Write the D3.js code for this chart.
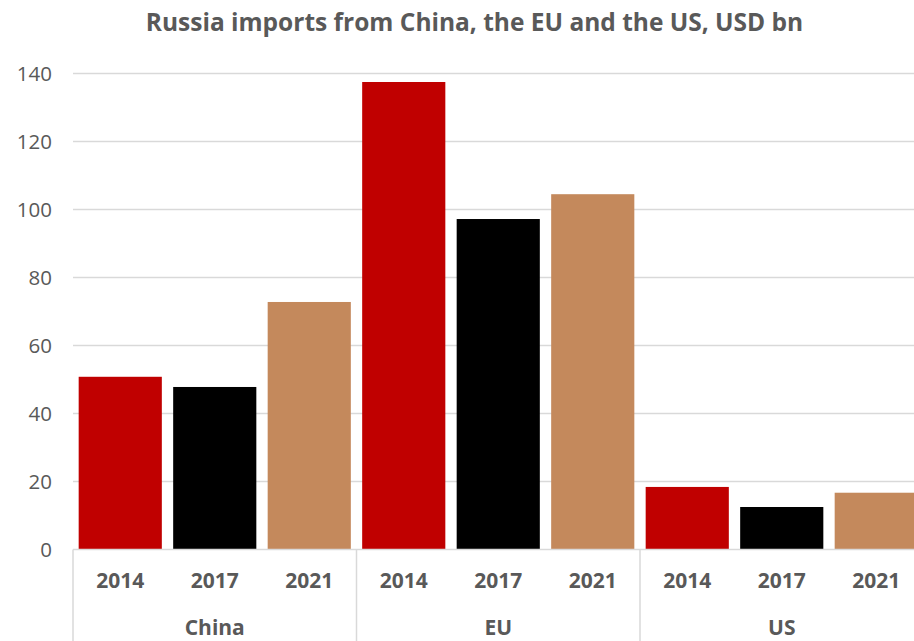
<!DOCTYPE html>
<html>
<head>
<meta charset="utf-8">
<script src="https://cdn.jsdelivr.net/npm/d3@7"></script>
<style>
  html, body { margin: 0; padding: 0; background: #fff; }
  svg { display: block; }
  text { font-family: "Open Sans", "Noto Sans", sans-serif; fill: #595959; }
</style>
</head>
<body>
<script>
// Russian imports by partner and year, USD bn
const partners = ["China", "EU", "US"];
const years = ["2014", "2017", "2021"];
const chinaValues = [50.8, 47.8, 72.8];
const euValues = [137.5, 97.2, 104.5];
const usValues = [18.4, 12.5, 16.7];
const yTicks = [0, 20, 40, 60, 80, 100, 120, 140];
const yearColors = ["#c00000", "#000000", "#c4895c"];
const titleText = "Russia imports from China, the EU and the US, USD bn";

const valuesByPartner = { China: chinaValues, EU: euValues, US: usValues };
const rows = [];
partners.forEach(p => years.forEach((y, i) => rows.push({ partner: p, year: y, idx: i, value: valuesByPartner[p][i] })));

const W = 914, H = 641;
const plot = { left: 73, right: 923.5, top: 73.5, bottom: 549.5 };

const svg = d3.select("body").append("svg").attr("width", W).attr("height", H);

const x = d3.scaleBand()
  .domain(rows.map(d => d.partner + "|" + d.year))
  .range([plot.left, plot.right])
  .paddingInner(0.12)
  .paddingOuter(0.06);

const xGroup = d3.scaleBand().domain(partners).range([plot.left, plot.right]);

const y = d3.scaleLinear().domain([0, 140]).range([plot.bottom, plot.top]);

// gridlines
svg.append("g").selectAll("line").data(yTicks.filter(t => t > 0)).join("line")
  .attr("x1", plot.left).attr("x2", W)
  .attr("y1", d => y(d)).attr("y2", d => y(d))
  .attr("stroke", "#d9d9d9").attr("stroke-width", 1.5);

// y tick labels
svg.append("g").selectAll("text").data(yTicks).join("text")
  .attr("x", 52).attr("y", d => y(d))
  .attr("dy", "0.35em")
  .attr("text-anchor", "end")
  .attr("font-size", 20.5)
  .text(d => d);

// bars
svg.append("g").selectAll("rect").data(rows).join("rect")
  .attr("x", d => x(d.partner + "|" + d.year))
  .attr("width", x.bandwidth())
  .attr("y", d => y(d.value))
  .attr("height", d => y(0) - y(d.value))
  .attr("fill", d => yearColors[d.idx]);

// category axis: baseline and group separators
svg.append("line")
  .attr("x1", plot.left).attr("x2", W)
  .attr("y1", plot.bottom).attr("y2", plot.bottom)
  .attr("stroke", "#d9d9d9").attr("stroke-width", 1.5);

const seps = partners.map(p => xGroup(p)).concat([plot.right]);
svg.append("g").selectAll("line").data(seps).join("line")
  .attr("x1", d => d).attr("x2", d => d)
  .attr("y1", plot.bottom).attr("y2", H)
  .attr("stroke", "#d9d9d9").attr("stroke-width", 1.5);

// year labels
svg.append("g").selectAll("text").data(rows).join("text")
  .attr("x", d => x(d.partner + "|" + d.year) + x.bandwidth() / 2)
  .attr("y", 581)
  .attr("dy", "0.35em")
  .attr("text-anchor", "middle")
  .attr("font-size", 21)
  .attr("font-weight", "bold")
  .text(d => d.year);

// partner labels
svg.append("g").selectAll("text").data(partners).join("text")
  .attr("x", d => xGroup(d) + xGroup.bandwidth() / 2)
  .attr("y", 628)
  .attr("dy", "0.35em")
  .attr("text-anchor", "middle")
  .attr("font-size", 21)
  .attr("font-weight", "bold")
  .text(d => d);

// title
svg.append("text")
  .attr("x", 474.5).attr("y", 31)
  .attr("text-anchor", "middle")
  .attr("font-size", 24.5)
  .attr("font-weight", "bold")
  .text(titleText);
</script>
</body>
</html>
